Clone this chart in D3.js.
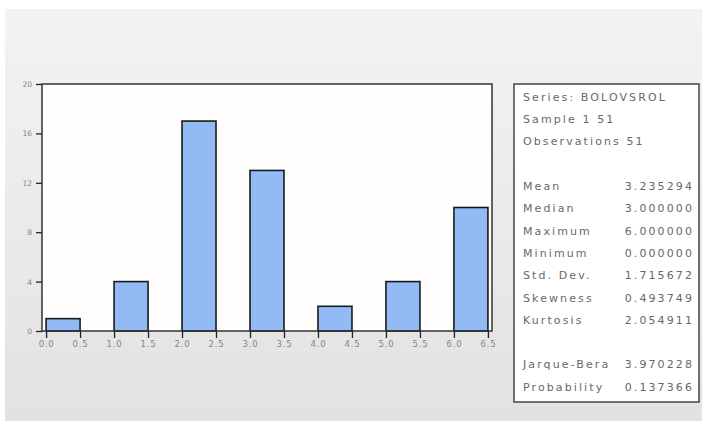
<!DOCTYPE html>
<html><head><meta charset="utf-8">
<script src="https://cdn.jsdelivr.net/npm/d3@7"></script>
<style>body{margin:0;background:#fff;}svg{display:block;}</style>
</head><body>
<script>
// Histogram bins (lower edge, upper edge) and counts
const binStarts = [0.0, 1.0, 2.0, 3.0, 4.0, 5.0, 6.0];
const binWidth = 0.5;
const counts = [1, 4, 17, 13, 2, 4, 10];
const xTicks = [0.0,0.5,1.0,1.5,2.0,2.5,3.0,3.5,4.0,4.5,5.0,5.5,6.0,6.5];
const yTicks = [0, 4, 8, 12, 16, 20];
const headerLines = ["Series: BOLOVSROL", "Sample 1 51", "Observations 51"];
const statNames = ["Mean","Median","Maximum","Minimum","Std. Dev.","Skewness","Kurtosis"];
const statValues = ["3.235294","3.000000","6.000000","0.000000","1.715672","0.493749","2.054911"];
const testNames = ["Jarque-Bera","Probability"];
const testValues = ["3.970228","0.137366"];

const W = 702, H = 421;
const svg = d3.select("body").append("svg").attr("width", W).attr("height", H);
const defs = svg.append("defs");
const grad = defs.append("linearGradient").attr("id","bg").attr("x1",0).attr("y1",0).attr("x2",0).attr("y2",1);
grad.append("stop").attr("offset","0%").attr("stop-color","#f3f3f3");
grad.append("stop").attr("offset","100%").attr("stop-color","#e2e2e2");
svg.append("rect").attr("x",5).attr("y",9).attr("width",W-5).attr("height",H-9).attr("fill","url(#bg)");

const x = d3.scaleLinear().domain([-0.06, 6.56]).range([42, 492]);
const y = d3.scaleLinear().domain([0, 20]).range([331, 84]);

// plot background
svg.append("rect").attr("x",42).attr("y",84).attr("width",450).attr("height",247).attr("fill","#fffefc");

// bars
svg.append("g").selectAll("rect").data(binStarts).join("rect")
  .attr("x", d => x(d))
  .attr("y", (d,i) => y(counts[i]))
  .attr("width", d => x(d + binWidth) - x(d))
  .attr("height", (d,i) => y(0) - y(counts[i]))
  .attr("fill", "#92bbf6")
  .attr("stroke", "#1a1a1a")
  .attr("stroke-width", 1.6);

// frame
svg.append("rect").attr("x",42).attr("y",84).attr("width",450).attr("height",247)
  .attr("fill","none").attr("stroke","#333").attr("stroke-width",1.5);

// axes
const xAxis = d3.axisBottom(x).tickValues(xTicks).tickFormat(d3.format(".1f")).tickSize(7).tickPadding(3);
const gx = svg.append("g").attr("transform","translate(0,331)").call(xAxis);
gx.select(".domain").remove();
gx.selectAll("line").attr("stroke","#222").attr("stroke-width",1.3);
gx.selectAll("text").attr("fill","#858585").style("font-family","'DejaVu Sans', sans-serif").style("font-size","8.5px").style("letter-spacing","0.8px");

const yAxis = d3.axisLeft(y).tickValues(yTicks).tickSize(6).tickPadding(4);
const gy = svg.append("g").attr("transform","translate(42,0)").call(yAxis);
gy.select(".domain").remove();
gy.selectAll("line").attr("stroke","#222").attr("stroke-width",1.3);
gy.selectAll("text").attr("fill","#858585").style("font-family","'DejaVu Sans', sans-serif").style("font-size","7.5px");

// stats box
svg.append("rect").attr("x",514).attr("y",84).attr("width",185).attr("height",318)
  .attr("fill","#fff").attr("stroke","#444").attr("stroke-width",1.5);

const lineY = i => 97 + i * 22.3;
const tg = svg.append("g").style("font-family","'DejaVu Sans', sans-serif").style("font-size","11px")
  .style("letter-spacing","2.1px").attr("fill","#686868");
const rows = [];
headerLines.forEach((t,i) => rows.push({label:t, value:null, idx:i}));
statNames.forEach((t,i) => rows.push({label:t, value:statValues[i], idx:4+i}));
testNames.forEach((t,i) => rows.push({label:t, value:testValues[i], idx:12+i}));
tg.selectAll("text.lab").data(rows).join("text").attr("class","lab")
  .attr("x",523).attr("y",d => lineY(d.idx)).attr("dy","0.35em").text(d => d.label);
tg.selectAll("text.val").data(rows.filter(r => r.value)).join("text").attr("class","val")
  .attr("x",694).attr("y",d => lineY(d.idx)).attr("dy","0.35em").attr("text-anchor","end").text(d => d.value);
</script>
</body></html>
